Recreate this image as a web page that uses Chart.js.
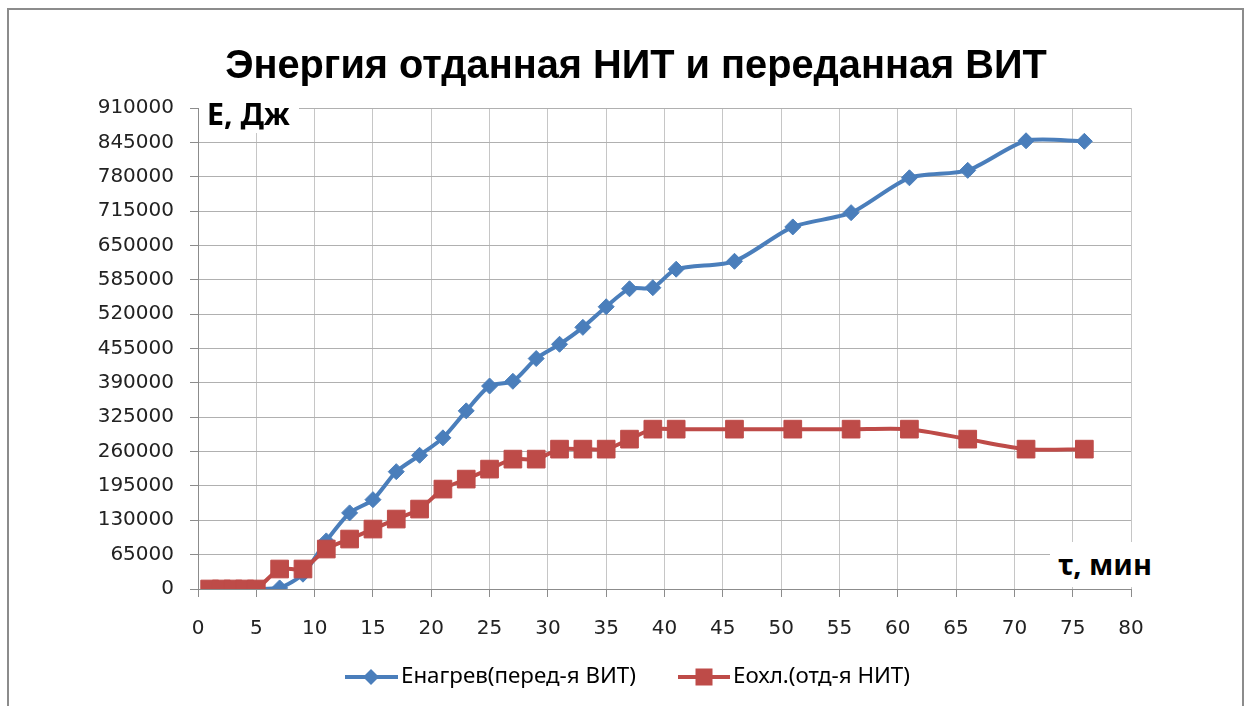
<!DOCTYPE html>
<html><head><meta charset="utf-8">
<script src="https://cdn.jsdelivr.net/npm/chart.js@4.4.0/dist/chart.umd.min.js"></script>
<style>
html,body{margin:0;padding:0;background:#fff;width:1248px;height:706px;overflow:hidden}
#wrap{position:relative;width:1248px;height:706px}
#frame{position:absolute;left:7px;top:8px;width:1237px;height:760px;border:2px solid #8c8c8c;box-sizing:border-box}
#c{position:absolute;left:0;top:0}
.lab{position:absolute;background:#fff;font-family:'Noto Sans',sans-serif;font-weight:bold;color:#000;white-space:nowrap;z-index:2}
#title{position:absolute;left:0;width:1272px;text-align:center;font-family:'Liberation Sans',sans-serif;font-weight:bold;color:#000;white-space:nowrap;z-index:2}
</style></head>
<body><div id="wrap"><div id="frame"></div><canvas id="c" width="1248" height="706"></canvas>
<div id="title"></div>
<div id="ylab" class="lab">Е, Дж</div><div id="xlab" class="lab">τ, мин</div></div>
<script>
// ---- data ----
const TITLE = 'Энергия отданная НИТ и переданная ВИТ';
const SERIES_NAMES = ['Енагрев(перед-я ВИТ)', 'Еохл.(отд-я НИТ)'];
const timeMin = [1,2,3,4,5,7,9,11,13,15,17,19,21,23,25,27,29,31,33,35,37,39,41,46,51,56,61,66,71,76];
const eHeat = [0,0,0,0,0,2000,28000,91000,144000,169000,222000,253000,286000,337000,384000,393000,436000,463000,495000,534000,568000,570000,605000,620000,685000,712000,778000,792000,848000,847000];
const eCool = [0,0,0,0,0,37800,37800,75600,94500,113400,132300,151200,189000,207900,226800,245700,245700,264600,264600,264600,283500,302400,302400,302400,302400,302400,302400,283500,264600,264600];
const xTicks = {min:0, max:80, step:5};
const yTicks = {min:0, max:910000, step:65000};

const BLUE = '#4a7ebb', RED = '#be4b48';
const mctx = document.createElement('canvas').getContext('2d');
function fit(text, weight, family, target){
  let s = 40; mctx.font = weight+' '+s+'px '+family;
  return s * target / mctx.measureText(text).width;
}
// title (HTML text)
const tEl = document.getElementById('title');
const titleSize = fit(TITLE, 'bold', "'Liberation Sans'", 822);
tEl.textContent = TITLE;
tEl.style.fontSize = titleSize+'px';
const tLH = 50;
tEl.style.lineHeight = tLH+'px';
tEl.style.top = (63 - ((tLH - 1.117*titleSize)/2 + 0.905*titleSize - 0.3645*titleSize))+'px';

const legFam = "'Noto Sans', sans-serif";
const legSize = fit(SERIES_NAMES[0], 'normal', legFam, 235);

// axis label overlays
function setLab(id, text, left, top, w, h, textLeft, textW){
  const el = document.getElementById(id);
  const sz = fit(text, 'bold', "'Noto Sans'", textW);
  el.style.left = left+'px'; el.style.top = top+'px'; el.style.width = w+'px'; el.style.height = h+'px';
  el.style.fontSize = sz+'px'; el.style.lineHeight = h+'px'; el.style.paddingLeft = (textLeft-left)+'px';
  el.style.boxSizing = 'border-box';
}
setLab('ylab', 'Е, Дж', 199, 94, 100, 39, 207, 83);
setLab('xlab', 'τ, мин', 1050, 542, 115, 45, 1058, 94);

const legendPlugin = {
  id:'excelLegend',
  afterDraw(chart){
    const ctx = chart.ctx; const y = 677;
    ctx.save();
    ctx.strokeStyle = BLUE; ctx.lineWidth = 4; ctx.beginPath(); ctx.moveTo(345,y); ctx.lineTo(398,y); ctx.stroke();
    ctx.fillStyle = BLUE; ctx.beginPath(); ctx.moveTo(371-8,y); ctx.lineTo(371,y-8); ctx.lineTo(371+8,y); ctx.lineTo(371,y+8); ctx.closePath(); ctx.fill();
    ctx.strokeStyle = RED; ctx.beginPath(); ctx.moveTo(678,y); ctx.lineTo(730,y); ctx.stroke();
    ctx.fillStyle = RED; ctx.fillRect(704-8.5, y-8.5, 17, 17);
    ctx.fillStyle = '#000'; ctx.font = legSize+'px '+legFam; ctx.textBaseline = 'middle';
    ctx.fillText(SERIES_NAMES[0], 401, y);
    ctx.fillText(SERIES_NAMES[1], 733, y);
    ctx.restore();
  }
};

const tickFont = {family:"'DejaVu Sans', sans-serif", size:20};

new Chart(document.getElementById('c'), {
  type:'line',
  data:{
    datasets:[
      {label:SERIES_NAMES[1], data:timeMin.map((t,i)=>({x:t,y:eCool[i]})), borderColor:RED, backgroundColor:RED,
       borderWidth:4, pointStyle:'rect', pointRadius:12.5, pointBorderWidth:1, pointBorderColor:RED, pointBackgroundColor:RED, tension:0.25},
      {label:SERIES_NAMES[0], data:timeMin.map((t,i)=>({x:t,y:eHeat[i]})), borderColor:BLUE, backgroundColor:BLUE,
       borderWidth:4, pointStyle:'rectRot', pointRadius:8, pointBorderWidth:1, pointBorderColor:BLUE, pointBackgroundColor:BLUE, tension:0.25}
    ]
  },
  options:{
    responsive:false, animation:false, devicePixelRatio:1,
    layout:{padding:{left:0,right:117,top:108,bottom:63}},
    plugins:{ legend:{display:false}, tooltip:{enabled:false}, title:{display:false} },
    scales:{
      x:{type:'linear', min:xTicks.min, max:xTicks.max,
         ticks:{stepSize:xTicks.step, font:tickFont, color:'#222', padding:20, maxRotation:0, autoSkip:false},
         grid:{color:'#c6c6c6', tickColor:'#8c8c8c', tickLength:8, lineWidth:1},
         border:{color:'#8c8c8c', width:1},
         afterFit(s){ s.height = 54; }},
      y:{type:'linear', min:yTicks.min, max:yTicks.max,
         ticks:{stepSize:yTicks.step, font:tickFont, color:'#222', padding:16, callback:v=>String(v)},
         grid:{color:'#b0b0b0', tickColor:'#8c8c8c', tickLength:8, lineWidth:1},
         border:{color:'#8c8c8c', width:1},
         afterFit(s){ s.width = 198; }}
    }
  },
  plugins:[legendPlugin]
});
</script></body></html>
